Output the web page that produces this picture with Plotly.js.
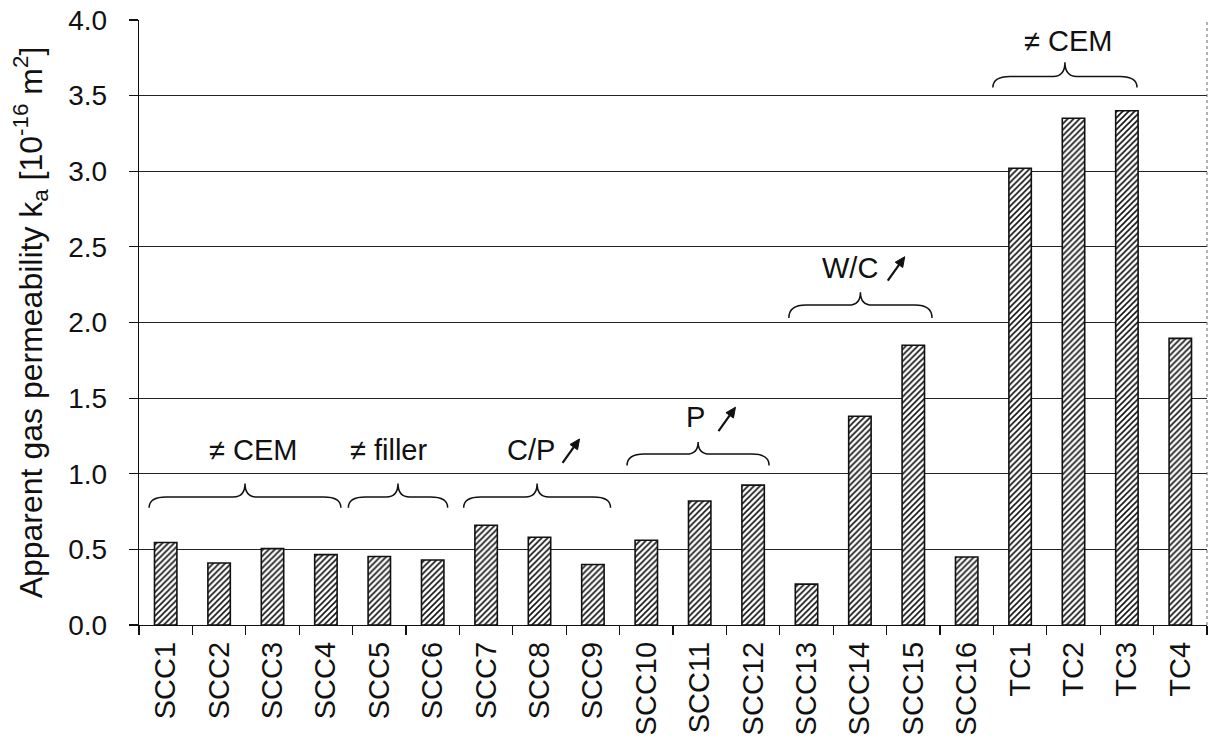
<!DOCTYPE html>
<html>
<head>
<meta charset="utf-8">
<script src="https://cdn.plot.ly/plotly-3.0.1.min.js"></script>
<style>
html,body{margin:0;padding:0;background:#fff;}
#chart{width:1208px;height:745px;}
</style>
</head>
<body>
<div id="chart"></div>
<script>
// ---- data ----
const categories = ['SCC1','SCC2','SCC3','SCC4','SCC5','SCC6','SCC7','SCC8','SCC9','SCC10',
                    'SCC11','SCC12','SCC13','SCC14','SCC15','SCC16','TC1','TC2','TC3','TC4'];
const permeability = [0.545,0.41,0.505,0.465,0.453,0.43,0.66,0.58,0.40,0.56,
                      0.82,0.925,0.27,1.38,1.85,0.45,3.02,3.35,3.40,1.895];
const yTickValues = [0,0.5,1.0,1.5,2.0,2.5,3.0,3.5,4.0];
const yTickLabels = ['0.0','0.5','1.0','1.5','2.0','2.5','3.0','3.5','4.0'];

// group annotations (braces), spans in category-index units
const groupLabels = ['≠ CEM','≠ filler','C/P','P','W/C','≠ CEM'];
const groupStart  = [-0.31, 3.42, 5.58, 8.64, 11.67, 15.49];
const groupEnd    = [ 3.28, 5.28, 8.33, 11.30, 14.35, 18.19];
const groupHasArrow = [false,false,true,true,true,false];

// ---- layout config (positions/styles) ----
const braceBase = [0.776,0.776,0.776,1.055,2.03,3.553];
const braceFlat = [0.846,0.846,0.846,1.13,2.115,3.626];
const braceTip  = [0.935,0.935,0.935,1.21,2.20,3.72];
const labelX = [1.64,4.18,6.84,9.92,12.82,16.9];
const labelY = [1.16,1.16,1.16,1.375,2.36,3.86];
const arrowX = [null,null,7.75,10.67,13.84,null];
const arrowY = [null,null,1.23,1.44,2.435,null];

const FONT = 'Liberation Sans, Arial, Helvetica, sans-serif';
const W = 1208, H = 745, ML = 139, MR = 1, MT = 20, MB = 120;
const pxPerX = (W-ML-MR)/categories.length;
const pxPerY = (H-MT-MB)/4;

function bracePath(x0,x1,yb,yf,yt){
  const xm=(x0+x1)/2, r=0.32, rm=0.22;
  return `M ${x0},${yb} Q ${x0},${yf} ${x0+r},${yf} L ${xm-rm},${yf} Q ${xm},${yf} ${xm},${yt} `+
         `Q ${xm},${yf} ${xm+rm},${yf} L ${x1-r},${yf} Q ${x1},${yf} ${x1},${yb}`;
}

// arrow drawn as shapes: pixel offsets converted to data units
function arrowShapes(xh,yh){
  const tdx=-17, tdy=24;
  const len=Math.hypot(tdx,tdy);
  const ux=-tdx/len, uy=-tdy/len;
  const L=10, w=4.6;
  const bx=-ux*L, by=-uy*L;
  const px=-uy, py=ux;
  const toX = d => xh + d/pxPerX;
  const toY = d => yh - d/pxPerY;
  const line = {type:'path', xref:'x', yref:'y',
    path:`M ${toX(tdx)},${toY(tdy)} L ${toX(bx)},${toY(by)}`,
    line:{color:'#111',width:2.2}};
  const head = {type:'path', xref:'x', yref:'y',
    path:`M ${toX(0)},${toY(0)} L ${toX(bx+px*w)},${toY(by+py*w)} L ${toX(bx-px*w)},${toY(by-py*w)} Z`,
    fillcolor:'#111', line:{color:'#111',width:1}};
  return [line, head];
}

const shapes = [];
const annotations = [];
for(let i=0;i<groupLabels.length;i++){
  shapes.push({type:'path', xref:'x', yref:'y',
    path: bracePath(groupStart[i],groupEnd[i],braceBase[i],braceFlat[i],braceTip[i]),
    line:{color:'#111',width:1.5}});
  annotations.push({x:labelX[i], y:labelY[i], xref:'x', yref:'y', text:groupLabels[i],
    showarrow:false, font:{family:FONT,size:29,color:'#111'}});
  if(groupHasArrow[i]) shapes.push(...arrowShapes(arrowX[i],arrowY[i]));
}
shapes.push({type:'line', xref:'paper', yref:'paper', x0:1, x1:1, y0:0, y1:1,
  line:{color:'#666',width:1,dash:'dot'}});

const trace = {
  type:'bar',
  x: categories,
  y: permeability,
  width: 0.42,
  marker:{
    color:'#fff',
    pattern:{shape:'/', fgcolor:'#111', bgcolor:'#fff', size:4.2, solidity:0.38},
    line:{color:'#111', width:1.6}
  },
  hoverinfo:'x+y'
};

const layout = {
  width:W, height:H,
  margin:{l:ML, r:MR, t:MT, b:MB},
  paper_bgcolor:'#fff', plot_bgcolor:'#fff',
  showlegend:false,
  font:{family:FONT, color:'#111'},
  xaxis:{
    type:'category',
    range:[-0.5,19.5],
    showline:true, linecolor:'#111', linewidth:1.3,
    ticks:'outside', tickson:'boundaries', ticklen:9, tickcolor:'#111', tickwidth:1.2,
    tickangle:-90, tickfont:{family:FONT,size:29,color:'#111'},
    ticklabelstandoff:4,
    showgrid:false, zeroline:false
  },
  yaxis:{
    range:[0,4],
    tickvals:yTickValues, ticktext:yTickLabels,
    showline:true, linecolor:'#111', linewidth:1.3,
    ticks:'outside', ticklen:9, tickcolor:'#111', tickwidth:1.2,
    tickfont:{family:FONT,size:28,color:'#111'},
    ticklabelstandoff:16,
    showgrid:true, gridcolor:'#222', gridwidth:1,
    zeroline:false,
    title:{text:'Apparent gas permeability k<sub>a</sub> [10<sup>-16</sup> m<sup>2</sup>]',
           font:{family:FONT,size:32,color:'#111'}, standoff:16}
  },
  shapes: shapes,
  annotations: annotations
};

Plotly.newPlot('chart',[trace],layout,{displayModeBar:false, staticPlot:true}).then(()=>{
  // Plotly inserts empty baseline-reset tspans after sub/sup; fold their shift into the following text
  const NS='http://www.w3.org/2000/svg';
  document.querySelectorAll('svg tspan').forEach(t=>{
    if(t.children.length===0 && t.textContent.replace(/[\u200b\u200a]/g,'')===''){
      const dy=t.getAttribute('dy');
      const next=t.nextSibling;
      if(next && next.nodeType===3 && next.textContent.length){
        const wrap=document.createElementNS(NS,'tspan');
        if(dy) wrap.setAttribute('dy',dy);
        t.parentNode.insertBefore(wrap,next);
        wrap.appendChild(next);
        t.remove();
      } else if(next && next.nodeType===1 && next.tagName==='tspan'){
        if(dy){
          const ndy=next.getAttribute('dy');
          const a=parseFloat(dy), b=ndy?parseFloat(ndy):0;
          next.setAttribute('dy',(a+b)+'em');
        }
        t.remove();
      }
    }
  });
});
</script>
</body>
</html>
